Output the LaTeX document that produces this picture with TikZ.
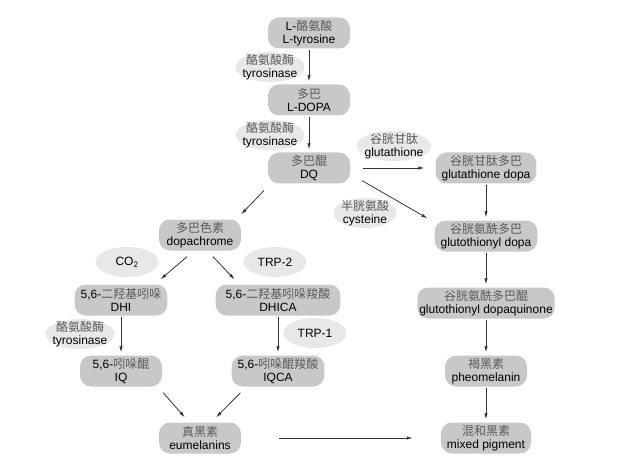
\documentclass[tikz,border=0pt]{standalone}
\usepackage{fontspec}
\setmainfont{Liberation Sans}
\newfontfamily\cjk{Noto Sans CJK SC}
\usetikzlibrary{arrows.meta, shapes.geometric}
\definecolor{cbox}{HTML}{C8C8C8}
\definecolor{cell}{HTML}{E8E8E8}
\definecolor{carrow}{HTML}{333333}
\definecolor{czh}{HTML}{5A5A5A}
\newcommand{\zh}[1]{{\cjk\color{czh}#1}}
\tikzset{
  every picture/.style={font=\fontsize{12}{13.5}\selectfont},
  stage/.style={fill=cbox, rounded corners=11pt, align=center, inner xsep=6pt, inner ysep=2pt, minimum width=82pt, minimum height=31pt},
  enzyme/.style={ellipse, fill=cell, align=center, inner xsep=-3pt, inner ysep=-4pt, minimum width=63pt, minimum height=30pt},
  arr/.style={-{Latex[length=6pt, width=3.4pt]}, draw=carrow, line width=0.8pt},
  vert/.style={arr, shorten <=1pt, shorten >=3pt},
}

\begin{document}
\begin{tikzpicture}[x=1pt, y=-1pt]
  \useasboundingbox (0,0) rectangle (624,468);
  % main pathway
  \node[stage] (tyr) at (309,33) {L-\zh{酪氨酸}\\L-tyrosine};
  \node[enzyme] (tyrase1) at (270,67) {\zh{酪氨酸酶}\\tyrosinase};
  \node[stage] (dopa) at (309,100) {\zh{多巴}\\L-DOPA};
  \node[enzyme] (tyrase2) at (270,135) {\zh{酪氨酸酶}\\tyrosinase};
  \node[stage] (dq) at (309,168) {\zh{多巴醌}\\DQ};
  % pheomelanin branch
  \node[enzyme] (glut) at (394,146) {\zh{谷胱甘肽}\\glutathione};
  \node[stage] (gdopa) at (486,168) {\zh{谷胱甘肽多巴}\\glutathione dopa};
  \node[enzyme] (cys) at (365,213) {\zh{半胱氨酸}\\cysteine};
  \node[stage] (gydopa) at (486,236) {\zh{谷胱氨酰多巴}\\glutothionyl dopa};
  \node[stage, inner xsep=2pt] (gydq) at (486,303) {\zh{谷胱氨酰多巴醌}\\glutothionyl dopaquinone};
  \node[stage] (pheo) at (486,371) {\zh{褐黑素}\\pheomelanin};
  \node[stage] (mixed) at (486,438) {\zh{混和黑素}\\mixed pigment};
  % eumelanin branch
  \node[stage] (dchrome) at (200,235) {\zh{多巴色素}\\dopachrome};
  \node[enzyme] (co2) at (127,262) {CO\textsubscript{2}};
  \node[enzyme] (trp2) at (275,262) {TRP-2};
  \node[stage] (dhi) at (121,300) {5,6-\zh{二羟基吲哚}\\DHI};
  \node[stage, inner xsep=10pt] (dhica) at (278,300) {5,6-\zh{二羟基吲哚羧酸}\\DHICA};
  \node[enzyme] (tyrase3) at (80,334) {\zh{酪氨酸酶}\\tyrosinase};
  \node[enzyme] (trp1) at (315,333) {TRP-1};
  \node[stage] (iq) at (121,371) {5,6-\zh{吲哚醌}\\IQ};
  \node[stage] (iqca) at (278,371) {5,6-\zh{吲哚醌羧酸}\\IQCA};
  \node[stage] (eum) at (200,438) {\zh{真黑素}\\eumelanins};
  % arrows
  \draw[vert] (tyr) -- (dopa);
  \draw[vert] (dopa) -- (dq);
  \draw[arr, shorten <=13pt, shorten >=11pt] (dq) -- (gdopa);
  \draw[arr] ([shift={(12,-3)}]dq.south east) -- ([shift={(-7,-2)}]gydopa.north west);
  \draw[vert] (gdopa) -- (gydopa);
  \draw[vert] (gydopa) -- (gydq);
  \draw[vert] (gydq) -- (pheo);
  \draw[vert] (pheo) -- (mixed);
  \draw[arr] ([shift={(-4,7)}]dq.south west) -- ([shift={(0,-5)}]dchrome.north east);
  \draw[arr] ([shift={(-13,6)}]dchrome.south) -- ([shift={(-7,-5)}]dhi.north east);
  \draw[arr] ([shift={(13,6)}]dchrome.south) -- ([shift={(19,-5)}]dhica.north west);
  \draw[vert] (dhi) -- (iq);
  \draw[vert] (dhica) -- (iqca);
  \draw[arr] ([shift={(1,6)}]iq.south east) -- ([shift={(26,-5)}]eum.north west);
  \draw[arr] ([shift={(9,6)}]iqca.south west) -- ([shift={(-25,-5)}]eum.north east);
  \draw[arr, shorten <=38pt, shorten >=28pt] (eum) -- (mixed);
\end{tikzpicture}
\end{document}
